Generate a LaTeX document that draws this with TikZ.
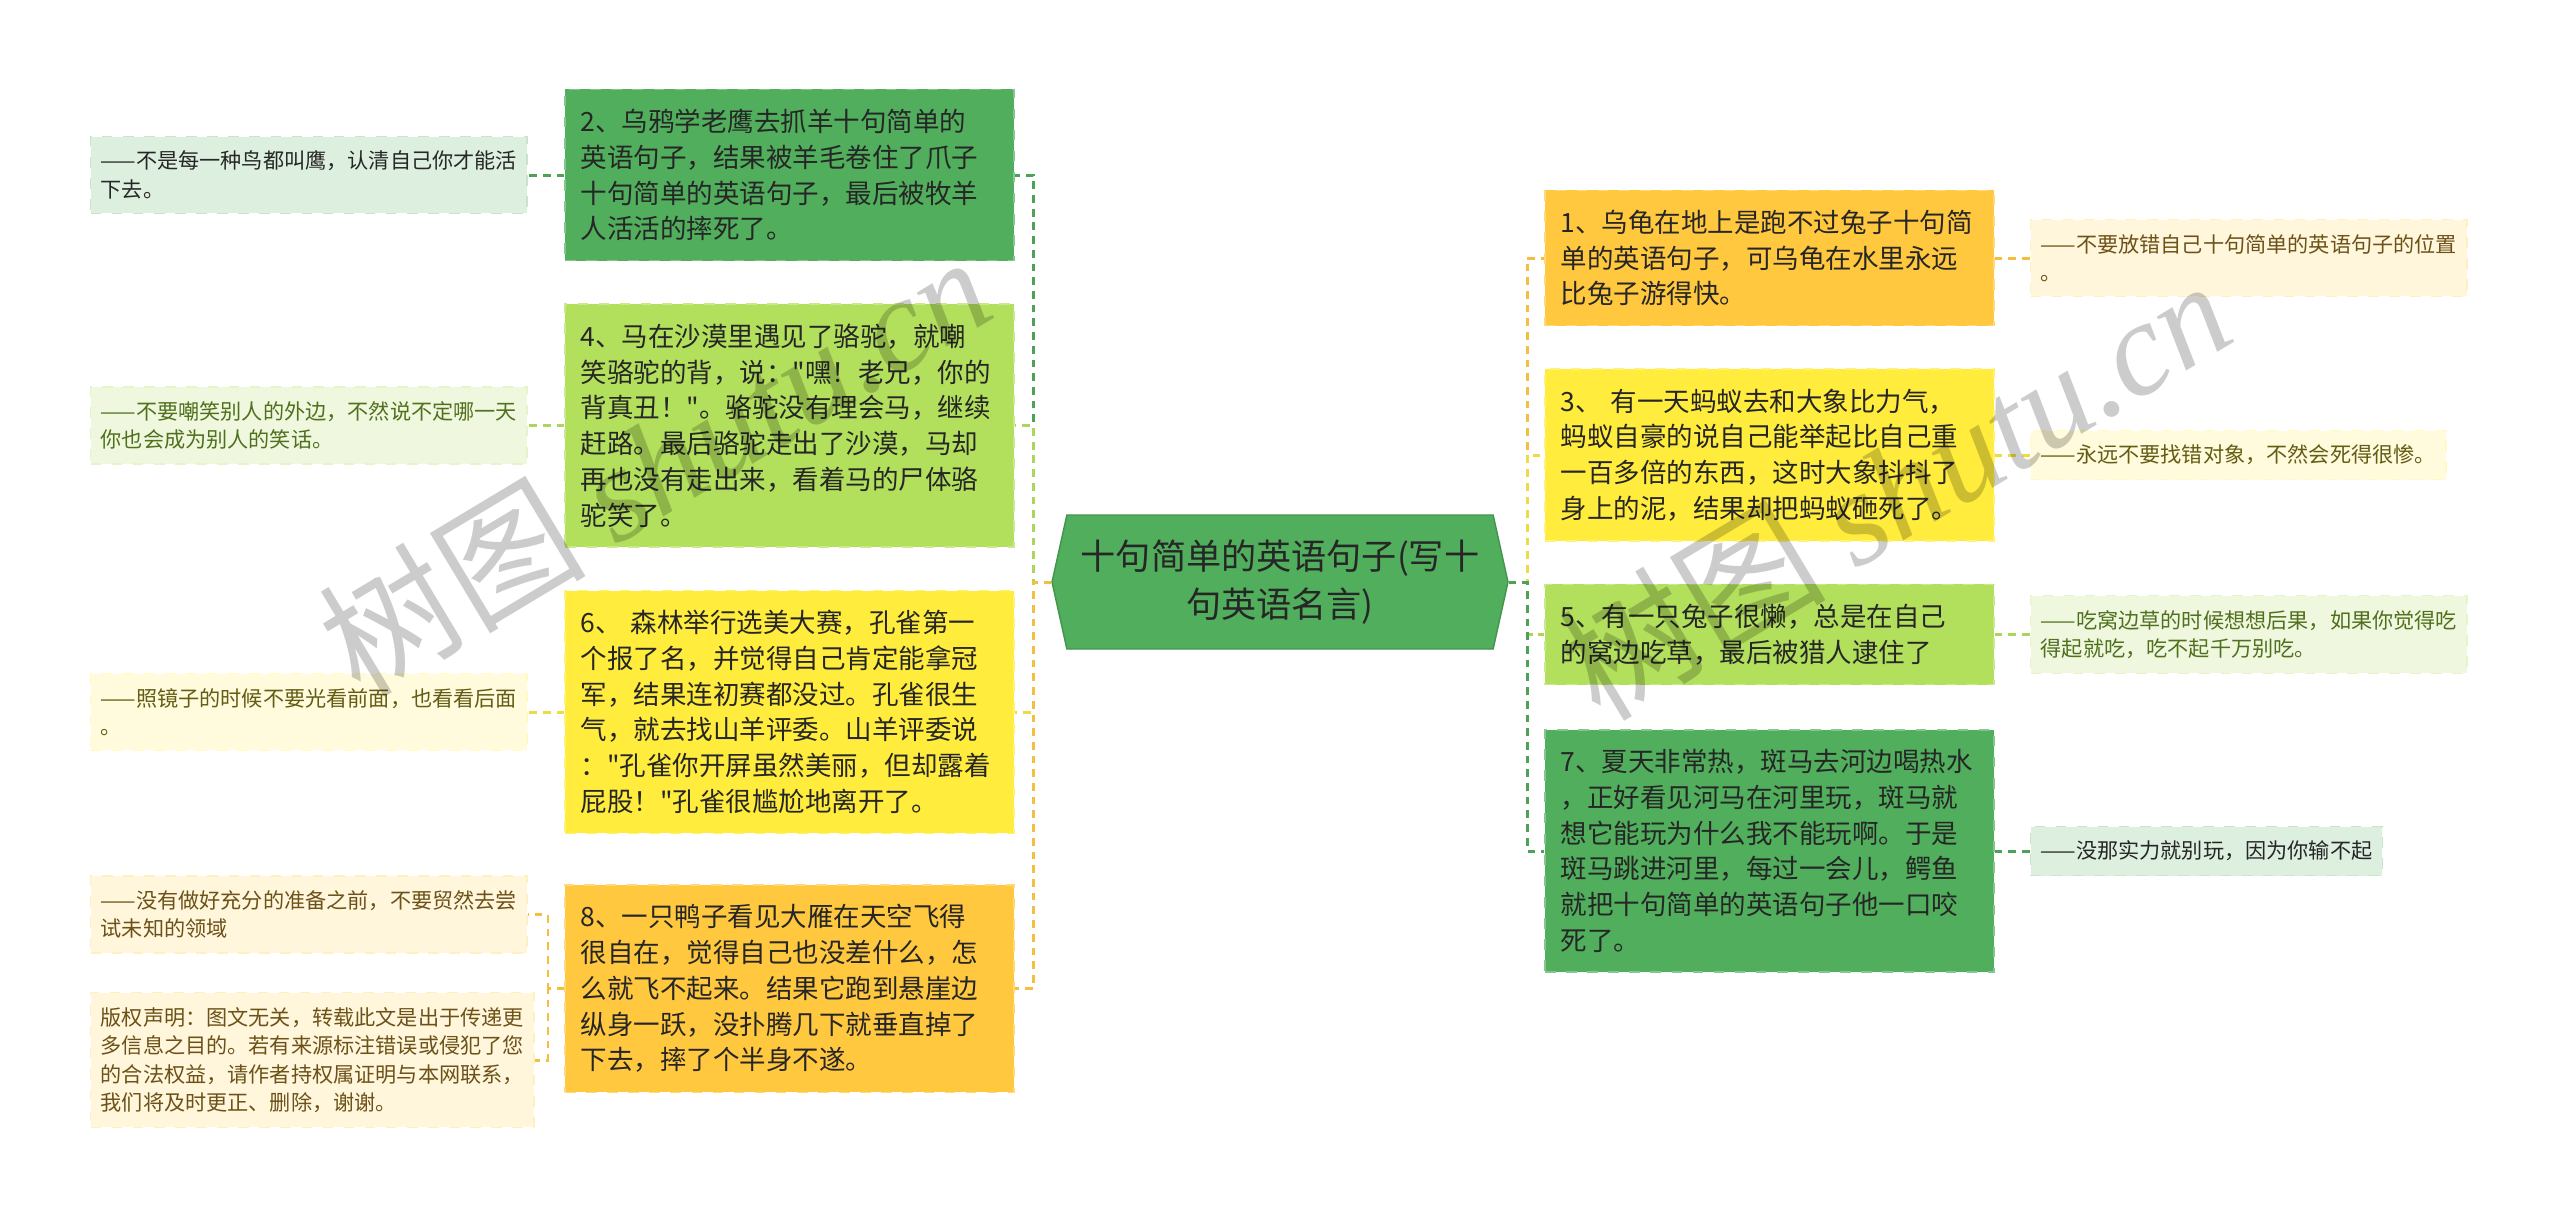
\documentclass[tikz,border=0pt]{standalone}
\usepackage{fontspec}
\setmainfont{Noto Sans CJK SC}[Ligatures=TeXOff]
\newfontfamily\wmlatin{Liberation Serif}
\usetikzlibrary{shapes.symbols}
\definecolor{mapgreen}{RGB}{80,174,92}
\definecolor{maplime}{RGB}{178,224,92}
\definecolor{mapyellow}{RGB}{255,236,61}
\definecolor{maporange}{RGB}{255,200,62}
\definecolor{leafgreenbg}{RGB}{221,239,223}
\definecolor{leaflimebg}{RGB}{239,248,222}
\definecolor{leafyellowbg}{RGB}{255,251,220}
\definecolor{leaforangebg}{RGB}{255,246,220}
\definecolor{inkdark}{RGB}{38,38,38}
\definecolor{inklime}{RGB}{80,112,30}
\definecolor{inkyellow}{RGB}{100,92,20}
\definecolor{inkorange}{RGB}{108,82,24}
\definecolor{railgreen}{RGB}{76,163,88}
\definecolor{raillime}{RGB}{170,214,90}
\definecolor{railyellow}{RGB}{238,220,70}
\definecolor{railorange}{RGB}{245,190,65}

\begin{document}
\begin{tikzpicture}[
  hub/.style={signal, signal to=east and west, signal pointer angle=155, fill=mapgreen, draw=mapgreen!85!black,
    minimum width=4.56cm, minimum height=1.34cm, inner sep=0pt, align=center, text=inkdark, font=\fontsize{10}{13.7}\selectfont},
  topic/.style={rectangle, dashed, fill=#1, draw=#1!70!white, text width=4.18cm, inner xsep=0.155cm, inner ysep=5.6pt,
    align=left, text=inkdark, font=\fontsize{7.54}{10.16}\selectfont},
  leaf/.style={rectangle, dashed, anchor=west, inner xsep=2.85pt, inner ysep=4.1pt, align=left, font=\fontsize{6.02}{8.11}\selectfont},
  leafgreen/.style={leaf, fill=leafgreenbg, draw=leafgreenbg!85!mapgreen, text=inkdark},
  leaflime/.style={leaf, fill=leaflimebg, draw=leaflimebg!85!maplime, text=inklime},
  leafyellow/.style={leaf, fill=leafyellowbg, draw=leafyellowbg!85!mapyellow, text=inkyellow},
  leaforange/.style={leaf, fill=leaforangebg, draw=leaforangebg!85!maporange, text=inkorange},
  link/.style={line width=0.85pt, dash pattern=on 2.2pt off 1.7pt},
  wmark/.style={anchor=base west, rotate=31, text=black, opacity=0.2, font=\fontsize{38}{38}\selectfont},
]
\useasboundingbox (0,0) rectangle (25.60,-12.17);

% ---- centre ----
\node[hub] (hub) at (12.80,-5.82) {十句简单的英语句子(写十\\句英语名言)};
\coordinate (lj) at (10.33,-5.82);
\coordinate (rj) at (15.27,-5.82);

% ---- left topics ----
\node[topic=mapgreen] (b2) at (7.895,-1.75) {2、乌鸦学老鹰去抓羊十句简单的\\英语句子，结果被羊毛卷住了爪子\\十句简单的英语句子，最后被牧羊\\人活活的摔死了。};
\node[topic=maplime] (b4) at (7.895,-4.255) {4、马在沙漠里遇见了骆驼，就嘲\\笑骆驼的背，说："嘿！老兄，你的\\背真丑！"。骆驼没有理会马，继续\\赶路。最后骆驼走出了沙漠，马却\\再也没有走出来，看着马的尸体骆\\驼笑了。};
\node[topic=mapyellow] (b6) at (7.895,-7.12) {6、 森林举行选美大赛，孔雀第一\\个报了名，并觉得自己肯定能拿冠\\军，结果连初赛都没过。孔雀很生\\气，就去找山羊评委。山羊评委说\\："孔雀你开屏虽然美丽，但却露着\\屁股！"孔雀很尴尬地离开了。};
\node[topic=maporange] (b8) at (7.895,-9.885) {8、一只鸭子看见大雁在天空飞得\\很自在，觉得自己也没差什么，怎\\么就飞不起来。结果它跑到悬崖边\\纵身一跃，没扑腾几下就垂直掉了\\下去，摔了个半身不遂。};

% ---- right topics ----
\node[topic=maporange] (b1) at (17.695,-2.58) {1、乌龟在地上是跑不过兔子十句简\\单的英语句子，可乌龟在水里永远\\比兔子游得快。};
\node[topic=mapyellow] (b3) at (17.695,-4.55) {3、 有一天蚂蚁去和大象比力气，\\蚂蚁自豪的说自己能举起比自己重\\一百多倍的东西，这时大象抖抖了\\身上的泥，结果却把蚂蚁砸死了。};
\node[topic=maplime] (b5) at (17.695,-6.345) {5、有一只兔子很懒，总是在自己\\的窝边吃草，最后被猎人逮住了};
\node[topic=mapgreen] (b7) at (17.695,-8.51) {7、夏天非常热，斑马去河边喝热水\\，正好看见河马在河里玩，斑马就\\想它能玩为什么我不能玩啊。于是\\斑马跳进河里，每过一会儿，鳄鱼\\就把十句简单的英语句子他一口咬\\死了。};

% ---- left leaves ----
\node[leafgreen] (l2) at (0.90,-1.75) {——不是每一种鸟都叫鹰，认清自己你才能活\\下去。};
\node[leaflime] (l4) at (0.90,-4.255) {——不要嘲笑别人的外边，不然说不定哪一天\\你也会成为别人的笑话。};
\node[leafyellow] (l6) at (0.90,-7.12) {——照镜子的时候不要光看前面，也看看后面\\。};
\node[leaforange] (l8a) at (0.90,-9.145) {——没有做好充分的准备之前，不要贸然去尝\\试未知的领域};
\node[leaforange] (l8b) at (0.90,-10.60) {版权声明：图文无关，转载此文是出于传递更\\多信息之目的。若有来源标注错误或侵犯了您\\的合法权益，请作者持权属证明与本网联系，\\我们将及时更正、删除，谢谢。};
\coordinate (j8) at (5.48,-9.885);

% ---- right leaves ----
\node[leaforange] (r1) at (20.30,-2.58) {——不要放错自己十句简单的英语句子的位置\\。};
\node[leafyellow] (r3) at (20.30,-4.55) {——永远不要找错对象，不然会死得很惨。};
\node[leaflime] (r5) at (20.30,-6.345) {——吃窝边草的时候想想后果，如果你觉得吃\\得起就吃，吃不起千万别吃。};
\node[leafgreen] (r7) at (20.30,-8.51) {——没那实力就别玩，因为你输不起};

% ---- centre -> topics (later ones lie on top near the hub) ----
\draw[link, railgreen] (hub.west) -- (lj) |- (b2.east);
\draw[link, raillime] (hub.west) -- (lj) |- (b4.east);
\draw[link, railyellow] (hub.west) -- (lj) |- (b6.east);
\draw[link, railorange] (hub.west) -- (lj) |- (b8.east);
\draw[link, railorange] (hub.east) -- (rj) |- (b1.west);
\draw[link, railyellow] (hub.east) -- (rj) |- (b3.west);
\draw[link, raillime] (hub.east) -- (rj) |- (b5.west);
\draw[link, railgreen] (hub.east) -- (rj) |- (b7.west);

% ---- topics -> leaves ----
\draw[link, railgreen] (b2.west) -- (l2.east);
\draw[link, raillime] (b4.west) -- (l4.east);
\draw[link, railyellow] (b6.west) -- (l6.east);
\draw[link, railorange] (b8.west) -- (j8) |- (l8a.east);
\draw[link, railorange] (b8.west) -- (j8) |- (l8b.east);
\draw[link, railorange] (b1.east) -- (r1.west);
\draw[link, railyellow] (b3.east) -- (r3.west);
\draw[link, raillime] (b5.east) -- (r5.west);
\draw[link, railgreen] (b7.east) -- (r7.west);

% ---- watermark ----
\node[wmark] (wm1) at (3.50,-7.06) {树图 {\wmlatin\itshape shutu.cn}};
\node[wmark] (wm2) at (15.90,-7.30) {树图 {\wmlatin\itshape shutu.cn}};

\end{tikzpicture}
\end{document}
